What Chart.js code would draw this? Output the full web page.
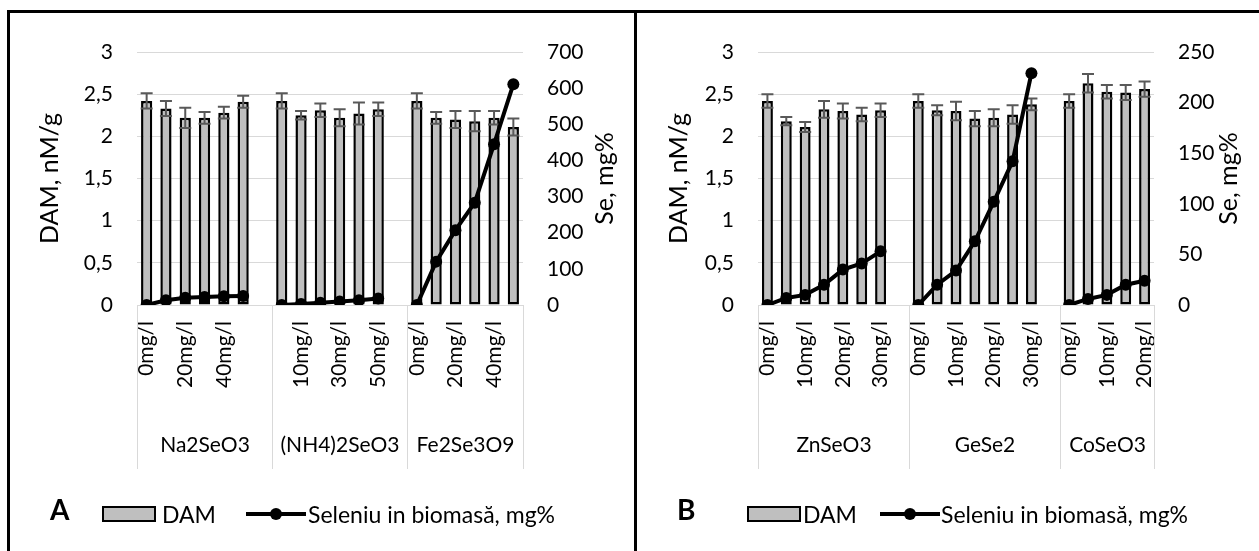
<!DOCTYPE html>
<html lang="ro">
<head>
<meta charset="UTF-8">
<title>DAM si seleniu in biomasa</title>
<script src="https://cdn.jsdelivr.net/npm/chart.js@4"></script>
<style>
  body { margin: 0; background: #fff; font-family: Lato, "Open Sans", sans-serif; }
  #page { position: relative; width: 1259px; height: 551px; overflow: hidden; }
  .box { position: absolute; top: 10px; height: 600px; border-top: 3px solid #000; border-left: 3px solid #000; }
  #boxA { left: 7px; width: 627px; }
  #boxB { left: 634px; width: 640px; }
  .wrap { position: absolute; top: 13px; height: 538px; }
  #wrapA { left: 10px; width: 624px; }
  #wrapB { left: 637px; width: 622px; }
  .lg { position: absolute; font-size: 23px; line-height: 24px; white-space: nowrap; }
  .tag { font-weight: bold; font-size: 28px; line-height: 30px; }
  .swatch { position: absolute; width: 50px; height: 12px; background: #bfbfbf; border: 2px solid #000; }
  .lineKey { position: absolute; width: 60px; height: 4px; background: #000; }
  .lineKey::after { content: ''; position: absolute; left: 24px; top: -4px; width: 12px; height: 12px; border-radius: 50%; background: #000; }
</style>
</head>
<body>
<div id="page">
  <div class="box" id="boxA"></div>
  <div class="box" id="boxB"></div>
  <div class="wrap" id="wrapA"><canvas id="chartA"></canvas></div>
  <div class="wrap" id="wrapB"><canvas id="chartB"></canvas></div>

  <!-- legends -->
  <div class="lg tag" style="left:50px; top:494px;">A</div>
  <div class="swatch" style="left:102px; top:506px;"></div>
  <div class="lg" style="left:162px; top:502px;">DAM</div>
  <div class="lineKey" style="left:246px; top:512px;"></div>
  <div class="lg" style="left:308px; top:502px;">Seleniu in biomasă, mg%</div>

  <div class="lg tag" style="left:677px; top:494px;">B</div>
  <div class="swatch" style="left:747px; top:506px;"></div>
  <div class="lg" style="left:803px; top:502px;">DAM</div>
  <div class="lineKey" style="left:880px; top:512px;"></div>
  <div class="lg" style="left:941px; top:502px;">Seleniu in biomasă, mg%</div>
</div>

<script>
    // ---- data, panel A ----
    const concA = ['0mg/l', '10mg/l', '20mg/l', '30mg/l', '40mg/l', '50mg/l'];
    const groupsA = ['Na2SeO3', '(NH4)2SeO3', 'Fe2Se3O9'];
    const damNa = [2.42, 2.33, 2.22, 2.22, 2.28, 2.41];
    const errNa = [0.09, 0.09, 0.12, 0.07, 0.07, 0.07];
    const seNa = [0, 13, 20, 22, 24, 25];
    const damNH4 = [2.42, 2.25, 2.31, 2.22, 2.27, 2.32];
    const errNH4 = [0.09, 0.05, 0.08, 0.10, 0.13, 0.08];
    const seNH4 = [0, 3, 6, 10, 13, 18];
    const damFe = [2.42, 2.22, 2.20, 2.18, 2.22, 2.11];
    const errFe = [0.09, 0.07, 0.10, 0.12, 0.08, 0.10];
    const seFe = [0, 120, 207, 283, 445, 611];

    // ---- data, panel B ----
    const concZn = ['0mg/l', '5mg/l', '10mg/l', '15mg/l', '20mg/l', '25mg/l', '30mg/l'];
    const concGe = ['0mg/l', '5mg/l', '10mg/l', '15mg/l', '20mg/l', '25mg/l', '30mg/l'];
    const concCo = ['0mg/l', '5mg/l', '10mg/l', '15mg/l', '20mg/l'];
    const groupsB = ['ZnSeO3', 'GeSe2', 'CoSeO3'];
    const damZn = [2.42, 2.18, 2.11, 2.32, 2.30, 2.26, 2.31];
    const errZn = [0.08, 0.05, 0.06, 0.10, 0.09, 0.08, 0.08];
    const seZn = [0, 7, 10, 20, 35, 41, 53];
    const damGe = [2.42, 2.31, 2.30, 2.21, 2.22, 2.26, 2.38];
    const errGe = [0.08, 0.06, 0.11, 0.09, 0.10, 0.11, 0.07];
    const seGe = [0, 20, 34, 63, 102, 142, 229];
    const damCo = [2.42, 2.63, 2.53, 2.52, 2.56];
    const errCo = [0.08, 0.11, 0.08, 0.09, 0.09];
    const seCo = [0, 6, 10, 20, 24];

    const FONT = 'Lato, "Open Sans", sans-serif';
    Chart.defaults.font.family = FONT;
    Chart.defaults.font.size = 21;
    Chart.defaults.color = '#000';

    // join groups with an empty category between them (like blank rows in the sheet)
    function joinGroups(parts, blank) {
        const out = [];
        parts.forEach((p, i) => {
            out.push(...p);
            if (i < parts.length - 1) out.push(blank);
        });
        return out;
    }

    function spansOf(names, parts) {
        let start = 0;
        return names.map((name, i) => {
            const size = parts[i].length + (i < parts.length - 1 ? 1 : 0);
            const s = { name, start, size };
            start += size;
            return s;
        });
    }

    // error bars on the DAM bars
    const errorBars = {
        id: 'errorBars',
        afterDatasetDraw(chart, args, opts) {
            if (args.index !== 0 || !opts.values) return;
            const y = chart.scales.y;
            const ctx = chart.ctx;
            const vals = chart.data.datasets[0].data;
            ctx.save();
            ctx.strokeStyle = '#595959';
            ctx.lineWidth = 2;
            args.meta.data.forEach((bar, i) => {
                const v = vals[i];
                const e = opts.values[i];
                if (v == null || e == null) return;
                const top = y.getPixelForValue(v + e);
                const bot = y.getPixelForValue(v - e);
                ctx.beginPath();
                ctx.moveTo(bar.x, top); ctx.lineTo(bar.x, bot);
                ctx.moveTo(bar.x - 6, top); ctx.lineTo(bar.x + 6, top);
                ctx.moveTo(bar.x - 6, bot); ctx.lineTo(bar.x + 6, bot);
                ctx.stroke();
            });
            ctx.restore();
        }
    };

    // second level of the category axis: group names and separators
    const groupAxis = {
        id: 'groupAxis',
        afterDraw(chart, args, opts) {
            if (!opts.spans) return;
            const x = chart.scales.x;
            const area = chart.chartArea;
            const ctx = chart.ctx;
            const step = (x.right - x.left) / chart.data.labels.length;
            ctx.save();
            ctx.strokeStyle = '#d9d9d9';
            ctx.lineWidth = 1;
            ctx.fillStyle = '#000';
            ctx.font = '21px ' + FONT;
            ctx.textAlign = 'center';
            ctx.textBaseline = 'middle';
            opts.spans.forEach((s, i) => {
                const x0 = Math.round(x.left + s.start * step) + 0.5;
                const x1 = Math.round(x.left + (s.start + s.size) * step) + 0.5;
                ctx.beginPath();
                ctx.moveTo(x0, area.bottom); ctx.lineTo(x0, opts.lineEnd);
                if (i === opts.spans.length - 1) {
                    ctx.moveTo(x1, area.bottom); ctx.lineTo(x1, opts.lineEnd);
                }
                ctx.stroke();
                ctx.fillText(s.name, (x0 + x1) / 2, opts.textY);
            });
            ctx.restore();
        }
    };

    // right axis title reads bottom-to-top, like the left one
    const rightTitle = {
        id: 'rightTitle',
        afterDraw(chart, args, opts) {
            if (!opts.text) return;
            const s = chart.scales.y1;
            const a = chart.chartArea;
            const ctx = chart.ctx;
            ctx.save();
            ctx.translate(s.right - opts.offset, (a.top + a.bottom) / 2);
            ctx.rotate(-Math.PI / 2);
            ctx.font = '25px ' + FONT;
            ctx.fillStyle = '#000';
            ctx.textAlign = 'center';
            ctx.textBaseline = 'middle';
            ctx.fillText(opts.text, 0, 0);
            ctx.restore();
        }
    };

    function makeChart(id, cfg) {
        const labels = joinGroups(cfg.concs, '');
        return new Chart(document.getElementById(id), {
            data: {
                labels: labels,
                datasets: [{
                    type: 'bar',
                    label: 'DAM',
                    data: joinGroups(cfg.dam, null),
                    yAxisID: 'y',
                    order: 1,
                    backgroundColor: '#bfbfbf',
                    borderColor: '#000',
                    borderWidth: 2.5,
                    borderSkipped: false,
                    categoryPercentage: 1,
                    barPercentage: 0.58
                }, {
                    type: 'line',
                    label: 'Seleniu in biomasă, mg%',
                    data: joinGroups(cfg.se, null),
                    yAxisID: 'y1',
                    order: 0,
                    borderColor: '#000',
                    borderWidth: 4,
                    pointRadius: 6,
                    pointBackgroundColor: '#000',
                    pointBorderWidth: 0,
                    spanGaps: false,
                    tension: 0
                }]
            },
            options: {
                responsive: true,
                maintainAspectRatio: false,
                animation: false,
                layout: { padding: { top: 39, bottom: 0, left: 0, right: 0 } },
                plugins: {
                    legend: { display: false },
                    tooltip: { enabled: false },
                    errorBars: { values: joinGroups(cfg.err, null) },
                    groupAxis: { spans: spansOf(cfg.groups, cfg.concs), textY: 432, lineEnd: 456 },
                    rightTitle: { text: 'Se, mg%', offset: cfg.rTitle }
                },
                scales: {
                    x: {
                        offset: true,
                        grid: { display: false, drawTicks: false },
                        border: { color: '#d9d9d9' },
                        ticks: {
                            autoSkip: false,
                            minRotation: 90,
                            maxRotation: 90,
                            padding: 16,
                            // every other label, as in the sheet
                            callback(v, i) { return i % 2 === 0 ? this.getLabelForValue(v) : ''; }
                        },
                        afterFit(s) { s.height = 246; }
                    },
                    y: {
                        position: 'left',
                        min: 0, max: 3,
                        ticks: { stepSize: 0.5, padding: 24, callback: v => String(v).replace('.', ',') },
                        grid: { color: '#d9d9d9', drawTicks: false },
                        border: { display: false },
                        title: { display: true, text: 'DAM, nM/g', font: { size: 25 }, padding: { top: cfg.lTitle, bottom: 0 } },
                        afterFit(s) { s.width = cfg.lWidth; }
                    },
                    y1: {
                        position: 'right',
                        min: 0, max: cfg.seMax,
                        ticks: { stepSize: cfg.seStep, padding: 24 },
                        grid: { display: false, drawTicks: false },
                        border: { display: false },
                        afterFit(s) { s.width = cfg.rWidth; }
                    }
                }
            },
            plugins: [errorBars, groupAxis, rightTitle]
        });
    }

    makeChart('chartA', {
        groups: groupsA,
        concs: [concA, concA, concA],
        dam: [damNa, damNH4, damFe],
        err: [errNa, errNH4, errFe],
        se: [seNa, seNH4, seFe],
        seMax: 700, seStep: 100,
        lWidth: 127, rWidth: 111, lTitle: 25, rTitle: 29
    });

    makeChart('chartB', {
        groups: groupsB,
        concs: [concZn, concGe, concCo],
        dam: [damZn, damGe, damCo],
        err: [errZn, errGe, errCo],
        se: [seZn, seGe, seCo],
        seMax: 250, seStep: 50,
        lWidth: 121, rWidth: 105, lTitle: 27, rTitle: 30
    });
</script>
</body>
</html>
